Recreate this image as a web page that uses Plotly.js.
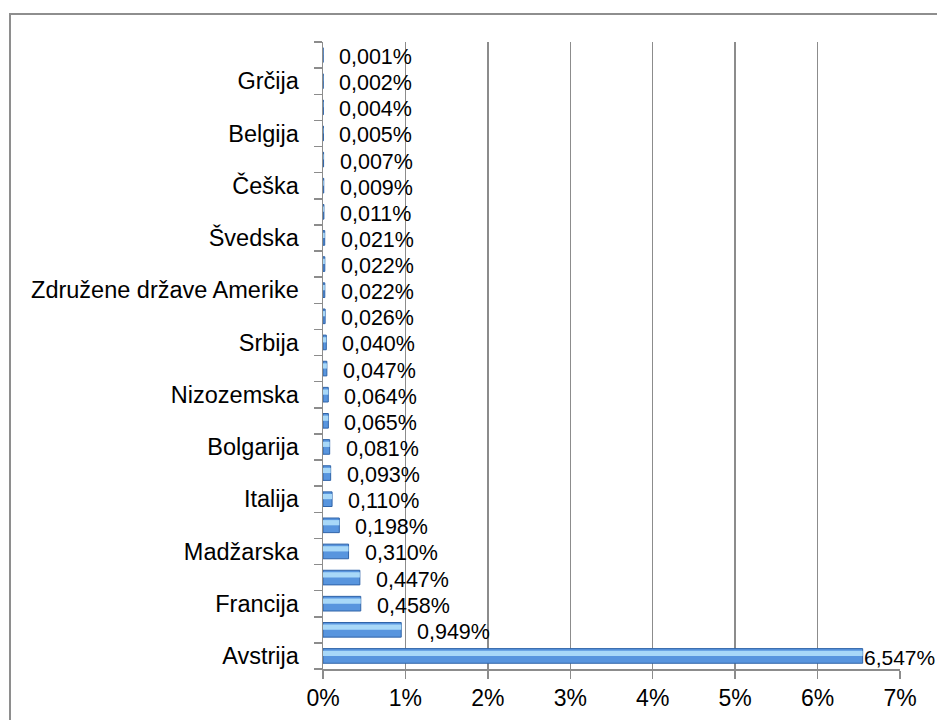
<!DOCTYPE html>
<html>
<head>
<meta charset="utf-8">
<script src="https://cdn.plot.ly/plotly-3.0.1.min.js"></script>
<style>
  html, body { margin: 0; padding: 0; background: #ffffff; }
  #frame { position: absolute; left: 9px; top: 13px; width: 940px; height: 720px;
           border-left: 2px solid #8e8e8e; border-top: 2px solid #8e8e8e; }
  #chart { position: absolute; left: 0; top: 0; width: 937px; height: 720px; }
</style>
</head>
<body>
<div id="frame"></div>
<div id="chart"></div>
<script>
// Categories from bottom (largest) to top (smallest); unlabeled rows in the source are ""
const categories = [
  "Avstrija", "", "Francija", "", "Madžarska", "", "Italija", "", "Bolgarija", "",
  "Nizozemska", "", "Srbija", "", "Združene države Amerike", "", "Švedska", "",
  "Češka", "", "Belgija", "", "Grčija", ""
];
// Share in percent
const values = [
  6.547, 0.949, 0.458, 0.447, 0.310, 0.198, 0.110, 0.093, 0.081, 0.065,
  0.064, 0.047, 0.040, 0.026, 0.022, 0.022, 0.021, 0.011, 0.009, 0.007,
  0.005, 0.004, 0.002, 0.001
];
const xTickValues = [0, 1, 2, 3, 4, 5, 6, 7];
const xTickLabels = ["0%", "1%", "2%", "3%", "4%", "5%", "6%", "7%"];

const rows = values.map((_, i) => i);
const labelVals = [], labelText = [];
categories.forEach((c, i) => { if (c) { labelVals.push(i); labelText.push(c); } });
const boundaries = [];
for (let i = 0; i <= values.length; i++) boundaries.push(i - 0.5);

const fmt = v => v.toFixed(3).replace('.', ',') + '%';
const maxV = Math.max(...values);

const base = {
  type: 'bar', orientation: 'h', x: values, y: rows,
  width: 0.56,
  marker: { color: '#5895de', line: { color: '#3064a8', width: 1 } },
  hoverinfo: 'skip', showlegend: false
};
const highlight = {
  type: 'bar', orientation: 'h', x: values, y: rows,
  width: 0.2, offset: 0.0,
  marker: { color: '#a8d8f8', line: { width: 0 } },
  hoverinfo: 'skip', showlegend: false
};
const tickHelper = {
  type: 'scatter', mode: 'markers', x: [null], y: [null], yaxis: 'y2',
  hoverinfo: 'skip', showlegend: false
};

const annotations = values.map((v, i) => ({
  x: v, y: rows[i], xref: 'x', yref: 'y',
  text: fmt(v), showarrow: false, xanchor: 'left', yanchor: 'middle',
  xshift: v === maxV ? -1 : 14, yshift: -2,
  font: { family: 'Liberation Sans, Arial, sans-serif', size: v === maxV ? 21 : 21.5, color: '#000000' }
}));

const layout = {
  width: 937, height: 720,
  margin: { l: 323, r: 37, t: 42, b: 51 },
  paper_bgcolor: 'rgba(0,0,0,0)', plot_bgcolor: 'rgba(0,0,0,0)',
  barmode: 'overlay',
  font: { family: 'Liberation Sans, Arial, sans-serif', size: 23, color: '#000000' },
  xaxis: {
    range: [0, 7], tickmode: 'array', tickvals: xTickValues, ticktext: xTickLabels,
    showgrid: true, gridcolor: '#8c8c8c', gridwidth: 1.5,
    showline: true, linecolor: '#8c8c8c', linewidth: 1.5,
    ticks: 'outside', ticklen: 8, tickcolor: '#8c8c8c', tickwidth: 1.5,
    zeroline: false, fixedrange: true,
    tickfont: { size: 23 }
  },
  yaxis: {
    range: [-0.5, values.length - 0.5], tickmode: 'array',
    tickvals: labelVals, ticktext: labelText,
    showgrid: false, zeroline: false,
    showline: true, linecolor: '#8c8c8c', linewidth: 1.5,
    ticks: '', ticklabelstandoff: 18, fixedrange: true,
    tickfont: { size: 23.5 }
  },
  yaxis2: {
    overlaying: 'y', side: 'left', anchor: 'x',
    range: [-0.5, values.length - 0.5], tickmode: 'array', tickvals: boundaries,
    showticklabels: false, showgrid: false, zeroline: false, showline: false,
    ticks: 'outside', ticklen: 8, tickcolor: '#8c8c8c', tickwidth: 1.5,
    fixedrange: true
  },
  annotations: annotations
};

Plotly.newPlot('chart', [base, highlight, tickHelper], layout, { staticPlot: true, displayModeBar: false });
</script>
</body>
</html>
